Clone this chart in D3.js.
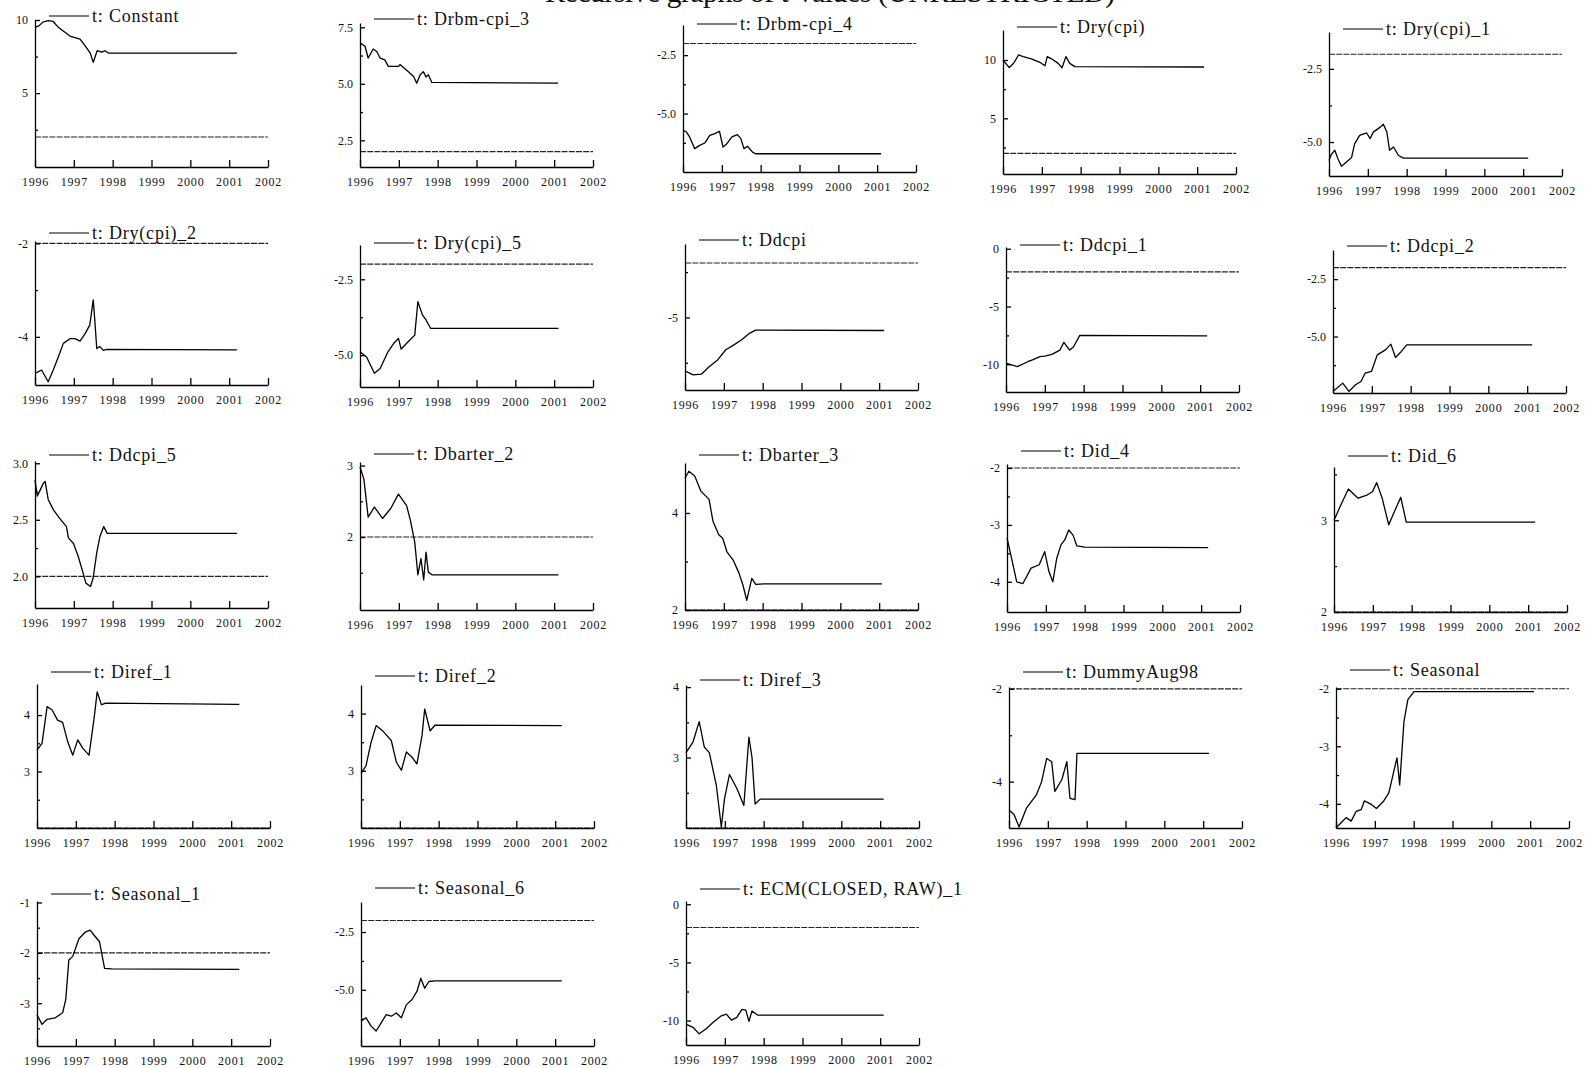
<!DOCTYPE html>
<html>
<head>
<meta charset="utf-8">
<script src="https://cdn.jsdelivr.net/npm/d3@7"></script>
<style>
  body { margin: 0; background: #fff; }
  svg { display: block; }
  text { font-family: "Liberation Serif", "Times New Roman", serif; fill: #111; }
</style>
</head>
<body>
<div id="chart"></div>
<script>
// x axis years shared by every panel
const years = [1996, 1997, 1998, 1999, 2000, 2001, 2002]

const names = [
  "t: Constant", "t: Drbm-cpi_3", "t: Drbm-cpi_4", "t: Dry(cpi)", "t: Dry(cpi)_1",
  "t: Dry(cpi)_2", "t: Dry(cpi)_5", "t: Ddcpi", "t: Ddcpi_1", "t: Ddcpi_2",
  "t: Ddcpi_5", "t: Dbarter_2", "t: Dbarter_3", "t: Did_4", "t: Did_6",
  "t: Diref_1", "t: Diref_2", "t: Diref_3", "t: DummyAug98", "t: Seasonal",
  "t: Seasonal_1", "t: Seasonal_6", "t: ECM(CLOSED, RAW)_1"
]

// +/-2 reference line for each panel
const critValues = [2, 2, -2, 2, -2, -2, -2, -2, -2, -2, 2, 2, 2, -2, 2, 2, 2, 2, -2, -2, -2, -2, -2]

const yDomains = [
  [-0.05, 10.0], [1.32, 7.69], [-7.5, -1.21], [0.23, 12.57], [-6.16, -1.24],
  [-5.03, -1.95], [-6.05, -1.37], [-9.0, -0.95], [-12.4, 0.15], [-7.46, -1.23],
  [1.72, 3.02], [0.98, 3.05], [2.0, 5.03], [-4.53, -1.93], [2.0, 3.58],
  [2.0, 4.55], [2.0, 4.5], [2.0, 4.03], [-5.0, -1.96], [-4.42, -1.97],
  [-3.85, -0.97], [-7.43, -1.2], [-12.1, 0.28]
]

const yTickValues = [
  [5, 10], [2.5, 5, 7.5], [-2.5, -5], [5, 10], [-2.5, -5],
  [-2, -4], [-2.5, -5], [-5], [0, -5, -10], [-2.5, -5],
  [2, 2.5, 3], [2, 3], [2, 4], [-2, -3, -4], [2, 3],
  [3, 4], [3, 4], [3, 4], [-2, -4], [-2, -3, -4],
  [-1, -2, -3], [-2.5, -5], [0, -5, -10]
]

const yTickLabels = [
  ["5", "10"], ["2.5", "5.0", "7.5"], ["-2.5", "-5.0"], ["5", "10"], ["-2.5", "-5.0"],
  ["-2", "-4"], ["-2.5", "-5.0"], ["-5"], ["0", "-5", "-10"], ["-2.5", "-5.0"],
  ["2.0", "2.5", "3.0"], ["2", "3"], ["2", "4"], ["-2", "-3", "-4"], ["2", "3"],
  ["3", "4"], ["3", "4"], ["3", "4"], ["-2", "-4"], ["-2", "-3", "-4"],
  ["-1", "-2", "-3"], ["-2.5", "-5.0"], ["0", "-5", "-10"]
]

const yMinorValues = [
  [2.5, 7.5], [3.75, 6.25], [-3.75, -6.25], [2.5, 7.5], [-3.75],
  [-3], [-3.75], [-2.5, -7.5], [-2.5, -7.5], [-3.75, -6.25],
  [2.25, 2.75], [1.5, 2.5], [3], [-2.5, -3.5], [2.5, 3.5],
  [2.5, 3.5], [2.5, 3.5], [2.5, 3.5], [-3], [-2.5, -3.5],
  [-1.5, -2.5, -3.5], [-3.75, -6.25], [-2.5, -7.5]
]

// recursive t-values, [year, t]
const tConstant = [[1996.0, 9.5], [1996.1, 9.6], [1996.2, 9.85], [1996.34, 9.95], [1996.47, 9.9], [1996.6, 9.5], [1996.9, 8.9], [1997.16, 8.7], [1997.3, 8.2], [1997.42, 7.75], [1997.5, 7.1], [1997.6, 7.9], [1997.72, 7.8], [1997.8, 7.9], [1997.9, 7.73], [2001.2, 7.73]]
const tDrbm3 = [[1996.0, 6.81], [1996.13, 6.66], [1996.21, 6.14], [1996.34, 6.54], [1996.43, 6.43], [1996.52, 6.14], [1996.64, 6.06], [1996.73, 5.77], [1996.99, 5.77], [1997.03, 5.85], [1997.24, 5.54], [1997.38, 5.32], [1997.46, 5.03], [1997.55, 5.4], [1997.63, 5.54], [1997.7, 5.3], [1997.76, 5.4], [1997.85, 5.06], [2001.1, 5.03]]
const tDrbm4 = [[1996.0, -5.71], [1996.09, -5.79], [1996.17, -6.0], [1996.3, -6.5], [1996.43, -6.36], [1996.56, -6.26], [1996.69, -5.93], [1996.82, -5.86], [1996.94, -5.76], [1997.03, -6.43], [1997.13, -6.29], [1997.26, -6.0], [1997.4, -5.9], [1997.49, -6.07], [1997.57, -6.5], [1997.66, -6.4], [1997.79, -6.65], [1997.87, -6.72], [2001.1, -6.72]]
const tDrycpi = [[1996.0, 10.0], [1996.16, 9.35], [1996.27, 9.7], [1996.4, 10.43], [1996.52, 10.29], [1996.73, 10.09], [1996.95, 9.8], [1997.08, 9.5], [1997.14, 10.29], [1997.25, 10.1], [1997.42, 9.71], [1997.52, 9.34], [1997.62, 10.29], [1997.72, 9.71], [1997.85, 9.43], [2001.18, 9.4]]
const tDrycpi1 = [[1996.0, -5.63], [1996.06, -5.42], [1996.15, -5.28], [1996.23, -5.57], [1996.32, -5.83], [1996.45, -5.68], [1996.58, -5.53], [1996.66, -5.06], [1996.79, -4.77], [1996.97, -4.69], [1997.06, -4.88], [1997.14, -4.66], [1997.32, -4.49], [1997.4, -4.39], [1997.49, -4.66], [1997.56, -5.28], [1997.66, -5.17], [1997.79, -5.46], [1997.92, -5.55], [2001.13, -5.55]]
const tDrycpi2 = [[1996.0, -4.78], [1996.17, -4.71], [1996.34, -4.96], [1996.47, -4.71], [1996.6, -4.43], [1996.73, -4.14], [1996.9, -4.04], [1997.03, -4.04], [1997.16, -4.09], [1997.29, -3.93], [1997.41, -3.75], [1997.5, -3.21], [1997.54, -3.64], [1997.59, -4.25], [1997.67, -4.21], [1997.76, -4.29], [1997.84, -4.27], [2001.2, -4.28]]
const tDrycpi5 = [[1996.0, -4.89], [1996.17, -5.06], [1996.37, -5.6], [1996.52, -5.44], [1996.72, -4.89], [1996.87, -4.61], [1996.99, -4.45], [1997.06, -4.8], [1997.24, -4.56], [1997.41, -4.34], [1997.49, -3.24], [1997.61, -3.68], [1997.7, -3.84], [1997.82, -4.12], [2001.11, -4.12]]
const tDdcpi = [[1996.0, -7.95], [1996.21, -8.17], [1996.42, -8.13], [1996.63, -7.7], [1996.84, -7.34], [1997.05, -6.78], [1997.26, -6.51], [1997.46, -6.23], [1997.67, -5.86], [1997.82, -5.7], [2001.13, -5.72]]
const tDdcpi1 = [[1996.0, -9.91], [1996.29, -10.2], [1996.56, -9.78], [1996.7, -9.6], [1996.87, -9.34], [1997.0, -9.3], [1997.18, -9.14], [1997.39, -8.77], [1997.49, -8.1], [1997.64, -8.77], [1997.74, -8.48], [1997.9, -7.5], [2001.18, -7.55]]
const tDdcpi2 = [[1996.0, -7.39], [1996.25, -7.03], [1996.41, -7.39], [1996.58, -7.1], [1996.72, -6.96], [1996.83, -6.59], [1996.99, -6.52], [1997.14, -5.8], [1997.35, -5.58], [1997.49, -5.33], [1997.61, -5.91], [1997.76, -5.65], [1997.9, -5.36], [2001.13, -5.36]]
const tDdcpi5 = [[1996.0, 2.85], [1996.06, 2.71], [1996.13, 2.76], [1996.21, 2.82], [1996.26, 2.84], [1996.34, 2.68], [1996.47, 2.59], [1996.64, 2.51], [1996.81, 2.44], [1996.86, 2.34], [1996.99, 2.29], [1997.11, 2.18], [1997.23, 2.04], [1997.31, 1.94], [1997.43, 1.91], [1997.5, 1.99], [1997.59, 2.21], [1997.67, 2.35], [1997.77, 2.44], [1997.86, 2.38], [2001.2, 2.38]]
const tDbarter2 = [[1996.0, 2.98], [1996.1, 2.81], [1996.21, 2.28], [1996.37, 2.42], [1996.58, 2.26], [1996.79, 2.4], [1996.99, 2.6], [1997.2, 2.44], [1997.3, 2.23], [1997.41, 1.93], [1997.49, 1.47], [1997.57, 1.7], [1997.64, 1.4], [1997.7, 1.79], [1997.76, 1.51], [1997.86, 1.47], [2001.11, 1.47]]
const tDbarter3 = [[1996.0, 4.72], [1996.1, 4.86], [1996.25, 4.76], [1996.41, 4.45], [1996.62, 4.28], [1996.72, 3.83], [1996.87, 3.55], [1996.97, 3.48], [1997.08, 3.2], [1997.24, 3.03], [1997.39, 2.76], [1997.49, 2.52], [1997.59, 2.2], [1997.72, 2.65], [1997.82, 2.53], [1998.07, 2.54], [2001.07, 2.54]]
const tDid4 = [[1996.0, -3.23], [1996.1, -3.53], [1996.25, -4.0], [1996.41, -4.03], [1996.62, -3.76], [1996.83, -3.7], [1996.97, -3.47], [1997.08, -3.82], [1997.18, -4.0], [1997.28, -3.59], [1997.39, -3.35], [1997.49, -3.26], [1997.59, -3.09], [1997.7, -3.18], [1997.8, -3.37], [1998.0, -3.39], [2001.18, -3.4]]
const tDid6 = [[1996.0, 3.0], [1996.17, 3.16], [1996.37, 3.34], [1996.62, 3.24], [1996.83, 3.27], [1996.99, 3.31], [1997.1, 3.41], [1997.24, 3.24], [1997.41, 2.95], [1997.55, 3.09], [1997.72, 3.25], [1997.86, 2.98], [2001.18, 2.98]]
const tDiref1 = [[1996.0, 3.38], [1996.13, 3.5], [1996.26, 4.15], [1996.39, 4.09], [1996.53, 3.91], [1996.66, 3.87], [1996.79, 3.53], [1996.92, 3.29], [1997.05, 3.56], [1997.18, 3.41], [1997.34, 3.29], [1997.47, 3.94], [1997.55, 4.41], [1997.66, 4.18], [1997.76, 4.21], [2001.21, 4.19]]
const tDiref2 = [[1996.0, 2.95], [1996.13, 3.09], [1996.26, 3.5], [1996.39, 3.79], [1996.57, 3.69], [1996.78, 3.53], [1996.91, 3.15], [1997.04, 3.01], [1997.17, 3.33], [1997.31, 3.24], [1997.44, 3.12], [1997.57, 3.61], [1997.64, 4.08], [1997.78, 3.7], [1997.91, 3.8], [2001.17, 3.79]]
const tDiref3 = [[1996.0, 3.07], [1996.18, 3.22], [1996.34, 3.51], [1996.47, 3.15], [1996.6, 3.07], [1996.78, 2.61], [1996.91, 2.01], [1996.99, 2.41], [1997.12, 2.76], [1997.31, 2.56], [1997.49, 2.32], [1997.62, 3.29], [1997.7, 3.0], [1997.78, 2.34], [1997.91, 2.41], [2001.09, 2.41]]
const tDummyAug98 = [[1996.0, -4.61], [1996.13, -4.71], [1996.26, -4.98], [1996.45, -4.57], [1996.71, -4.28], [1996.84, -4.0], [1996.97, -3.5], [1997.1, -3.57], [1997.18, -4.21], [1997.36, -3.96], [1997.49, -3.57], [1997.57, -4.36], [1997.7, -4.39], [1997.75, -3.39], [2001.15, -3.39]]
const tSeasonal = [[1996.0, -4.42], [1996.13, -4.33], [1996.26, -4.24], [1996.39, -4.3], [1996.52, -4.13], [1996.65, -4.1], [1996.73, -3.95], [1996.91, -4.01], [1997.04, -4.08], [1997.23, -3.95], [1997.36, -3.81], [1997.49, -3.43], [1997.57, -3.2], [1997.64, -3.67], [1997.75, -2.57], [1997.85, -2.19], [1998.01, -2.05], [2001.1, -2.05]]
const tSeasonal1 = [[1996.0, -3.23], [1996.13, -3.42], [1996.26, -3.32], [1996.47, -3.29], [1996.66, -3.19], [1996.74, -2.93], [1996.82, -2.14], [1996.92, -2.07], [1997.08, -1.72], [1997.24, -1.59], [1997.37, -1.55], [1997.47, -1.65], [1997.61, -1.78], [1997.74, -2.31], [1997.92, -2.32], [2001.21, -2.33]]
const tSeasonal6 = [[1996.0, -6.36], [1996.13, -6.21], [1996.26, -6.57], [1996.39, -6.78], [1996.52, -6.43], [1996.65, -6.07], [1996.78, -6.14], [1996.91, -6.0], [1997.04, -6.21], [1997.17, -5.64], [1997.31, -5.43], [1997.44, -5.07], [1997.54, -4.5], [1997.64, -4.93], [1997.75, -4.64], [1997.91, -4.61], [2001.17, -4.61]]
const tECM = [[1996.0, -10.3], [1996.18, -10.58], [1996.34, -11.14], [1996.52, -10.71], [1996.7, -10.15], [1996.91, -9.59], [1997.04, -9.45], [1997.17, -9.96], [1997.31, -9.73], [1997.44, -9.03], [1997.54, -9.1], [1997.62, -10.07], [1997.7, -9.17], [1997.85, -9.54], [2001.09, -9.54]]

const series = [
  tConstant, tDrbm3, tDrbm4, tDrycpi, tDrycpi1,
  tDrycpi2, tDrycpi5, tDdcpi, tDdcpi1, tDdcpi2,
  tDdcpi5, tDbarter2, tDbarter3, tDid4, tDid6,
  tDiref1, tDiref2, tDiref3, tDummyAug98, tSeasonal,
  tSeasonal1, tSeasonal6, tECM
]

// layout of the panels on the (slightly skewed) scanned page
const panelWidth = 233
const panelLeft = [35, 360, 683, 1003, 1329, 35, 360, 685, 1006, 1333, 35, 360, 685, 1007, 1334, 37, 361, 686, 1009, 1336, 37, 361, 686]
const panelTop = [20, 23, 25, 30, 32, 241, 245, 244, 247, 250, 461, 462, 463, 464, 467, 684, 685, 685, 687, 687, 901, 902, 901]
const panelBottom = [167, 167, 172, 174, 176, 385, 387, 390, 392, 393, 608, 610, 610, 612, 612, 828, 828, 828, 828, 828, 1046, 1046, 1045]
const legendDy = [2, 2, 5, 3, 3, -2, 4, 2, 4, 2, 0, -2, -2, -7, -5, -6, -3, 1, -9, -11, -1, -8, -6]

const fontFamily = "Liberation Serif, Times New Roman, serif"

const svg = d3.select("#chart")
  .append("svg")
  .attr("width", 1585)
  .attr("height", 1068)

// title, cut off by the top of the page
svg.append("text")
  .attr("x", 545)
  .attr("y", 2)
  .attr("font-size", 30)
  .attr("textLength", 570)
  .attr("fill", "#000")
  .text("Recursive graphs of t-values (UNRESTRICTED)")

const line = d3.line()

names.forEach(function(name, i) {
  const left = panelLeft[i]
  const top = panelTop[i]
  const bottom = panelBottom[i]

  const x = d3.scaleLinear()
    .domain([years[0], years[years.length - 1]])
    .range([left, left + panelWidth])
  const y = d3.scaleLinear()
    .domain(yDomains[i])
    .range([bottom, top])

  line.x(function(d) { return x(d[0]) }).y(function(d) { return y(d[1]) })

  const g = svg.append("g").attr("class", "panel")

  // reference line at +/-2
  g.append("path")
    .datum(x.domain().map(function(yr) { return [yr, critValues[i]] }))
    .attr("d", line)
    .attr("fill", "none")
    .attr("stroke", "#222")
    .attr("stroke-width", 1.1)
    .attr("stroke-dasharray", "6,1.2")

  // recursive t-value
  g.append("path")
    .datum(series[i])
    .attr("d", line)
    .attr("fill", "none")
    .attr("stroke", "#000")
    .attr("stroke-width", 1.3)
    .attr("stroke-linejoin", "round")

  // y axis, ticks pointing into the plot
  const yAxis = d3.axisLeft(y)
    .tickValues(yTickValues[i])
    .tickFormat(function(d, k) { return yTickLabels[i][k] })
    .tickSizeInner(-5)
    .tickSizeOuter(0)
    .tickPadding(7)
  g.append("g")
    .attr("transform", "translate(" + left + ",0)")
    .call(yAxis)

  g.append("g")
    .attr("transform", "translate(" + left + ",0)")
    .call(d3.axisLeft(y).tickValues(yMinorValues[i]).tickSize(-3).tickFormat(""))
    .select(".domain").remove()

  // x axis
  const xAxis = d3.axisBottom(x)
    .tickValues(years)
    .tickFormat(d3.format("d"))
    .tickSizeInner(-7)
    .tickSizeOuter(0)
    .tickPadding(10)
  const xa = g.append("g")
    .attr("transform", "translate(0," + bottom + ")")
    .call(xAxis)
  xa.selectAll("text").attr("letter-spacing", 0.8)

  g.selectAll(".tick line, .domain")
    .attr("stroke", "#000")
    .attr("stroke-width", 1.3)
  g.selectAll("g")
    .attr("font-family", fontFamily)
    .attr("font-size", 12)
  g.selectAll(".tick text").attr("fill", "#000")

  // legend
  const ly = top + legendDy[i]
  g.append("line")
    .attr("x1", left + 14)
    .attr("x2", left + 54)
    .attr("y1", ly - 6)
    .attr("y2", ly - 6)
    .attr("stroke", "#000")
    .attr("stroke-width", 1.2)
  g.append("text")
    .attr("x", left + 57)
    .attr("y", ly)
    .attr("font-size", 18)
    .attr("letter-spacing", 0.8)
    .attr("fill", "#000")
    .text(name)
})
</script>
</body>
</html>
